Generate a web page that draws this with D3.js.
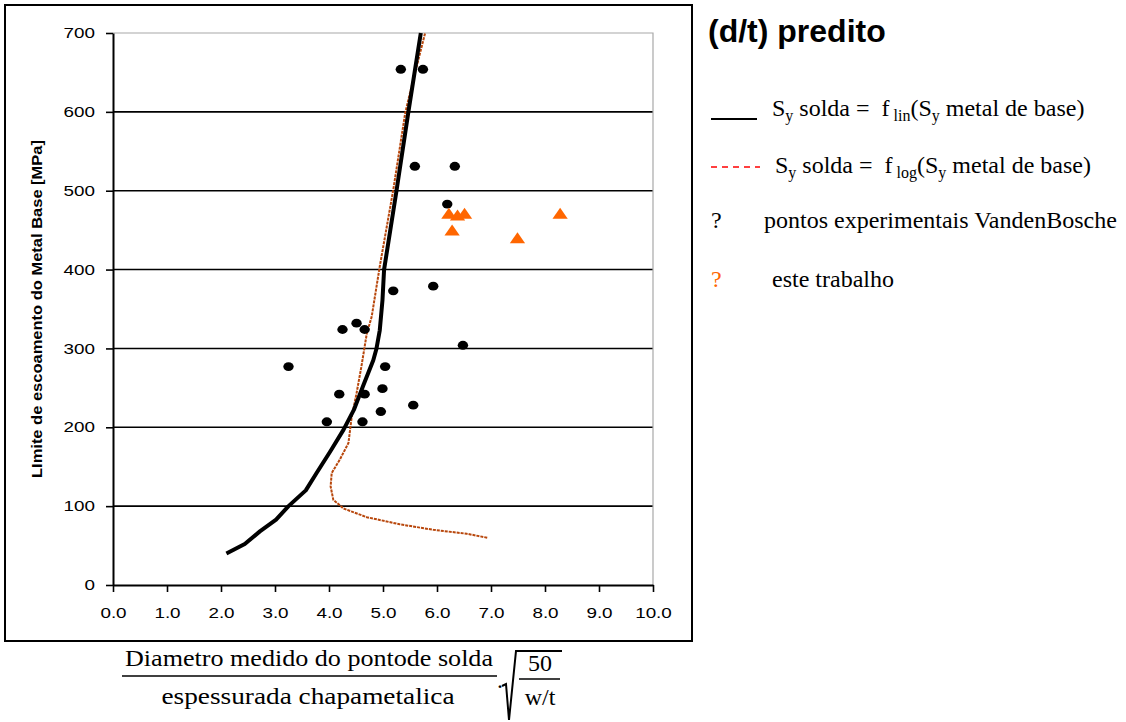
<!DOCTYPE html>
<html>
<head>
<meta charset="utf-8">
<script src="https://cdn.jsdelivr.net/npm/d3@7"></script>
<style>
  body { margin: 0; background: #fff; }
  svg { display: block; }
  text { white-space: pre; }
</style>
</head>
<body>
<svg id="chart" width="1126" height="722"></svg>
<script>
// experimental points, VandenBosche
const vbX = [5.33, 5.74, 5.59, 6.33, 6.19, 5.19, 5.93, 4.51, 4.25, 4.66, 6.48, 3.25, 5.04, 4.19, 4.66, 4.99, 5.56, 4.96, 3.96, 4.62];
const vbY = [654, 654, 531, 531, 483, 373, 379, 332, 324, 324, 304, 277, 277, 242, 242, 249, 228, 220, 207, 207];

// este trabalho
const twX = [6.22, 6.38, 6.51, 6.28, 7.49, 8.28];
const twY = [469, 467, 469, 448, 438, 469];

// predicted curve, linear fit
const linX = [2.10, 2.44, 2.72, 3.02, 3.25, 3.57, 3.77, 4.02, 4.27, 4.46, 4.64, 4.82, 4.88, 4.94, 4.99, 5.02, 5.25, 5.47, 5.70];
const linY = [40, 52, 68, 83, 100, 120, 142, 169, 197, 222, 254, 285, 300, 323, 361, 400, 500, 600, 700];

// predicted curve, log fit
const logX = [6.93, 6.55, 5.93, 5.31, 4.70, 4.27, 4.08, 4.03, 4.05, 4.20, 4.36, 4.42, 4.51, 4.60, 4.70, 4.79, 4.94, 5.19, 5.41, 5.50, 5.78];
const logY = [60, 65, 70, 77, 86, 97, 108, 125, 142, 159, 180, 213, 243, 277, 319, 340, 404, 501, 598, 624, 700];

const xTicks = [0, 1, 2, 3, 4, 5, 6, 7, 8, 9, 10];
const yTicks = [0, 100, 200, 300, 400, 500, 600, 700];
const yGrid = [100, 200, 300, 400, 500, 600];

const sans = "'Liberation Sans', Arial, sans-serif";
const serif = "'Liberation Serif', 'Times New Roman', serif";

const svg = d3.select("#chart");

const x = d3.scaleLinear().domain([0, 10]).range([113, 653]);
const y = d3.scaleLinear().domain([0, 700]).range([585, 33]);

// outer frame
svg.append("rect")
    .attr("x", 5).attr("y", 5)
    .attr("width", 687).attr("height", 636)
    .attr("fill", "none")
    .attr("stroke", "#000")
    .attr("stroke-width", 2);

// grid
svg.append("g").selectAll("line")
    .data(yGrid)
    .join("line")
    .attr("x1", x(0)).attr("x2", x(10))
    .attr("y1", d => y(d)).attr("y2", d => y(d))
    .attr("stroke", "#000")
    .attr("stroke-width", 1.6);

// plot area border (top + right) in gray
svg.append("path")
    .attr("d", `M${x(0)},${y(700)}H${x(10)}V${y(0)}`)
    .attr("fill", "none")
    .attr("stroke", "#a8a8a8")
    .attr("stroke-width", 1.2);

// axes
const sx = 1.3;  // tick labels look stretched sideways
const yAxis = svg.append("g")
    .attr("transform", `translate(${x(0)},0)`)
    .call(d3.axisLeft(y).tickValues(yTicks).tickSize(7).tickSizeOuter(0).tickFormat(d3.format("d")));
const xAxis = svg.append("g")
    .attr("transform", `translate(0,${y(0)})`)
    .call(d3.axisBottom(x).tickValues(xTicks).tickSize(7).tickSizeOuter(0).tickFormat(d3.format(".1f")));

[yAxis, xAxis].forEach(a => {
    a.select(".domain").attr("stroke", "#000").attr("stroke-width", 2);
    a.selectAll(".tick line").attr("stroke", "#000").attr("stroke-width", 1.6);
    a.selectAll("text")
        .attr("font-family", sans)
        .attr("font-size", 14.5)
        .attr("fill", "#000");
});
yAxis.selectAll("text")
    .attr("x", -18 / sx)
    .attr("transform", `scale(${sx},1)`);
xAxis.selectAll("text")
    .attr("y", 33)
    .attr("dy", 0)
    .attr("transform", `scale(${sx},1)`);
xAxis.selectAll(".tick text").attr("x", 0);

// y axis title
svg.append("text")
    .attr("transform", "translate(42,309) rotate(-90)")
    .attr("text-anchor", "middle")
    .attr("font-family", sans)
    .attr("font-weight", "bold")
    .attr("font-size", 15)
    .attr("textLength", 338)
    .attr("lengthAdjust", "spacingAndGlyphs")
    .text("LImite de escoamento do Metal Base [MPa]");

// curves
const line = d3.line().x(d => x(d[0])).y(d => y(d[1]));

svg.append("path")
    .datum(d3.zip(logX, logY))
    .attr("d", line)
    .attr("fill", "none")
    .attr("stroke", "#b8470c")
    .attr("stroke-width", 2)
    .attr("stroke-dasharray", "3,1");

svg.append("path")
    .datum(d3.zip(linX, linY))
    .attr("d", line)
    .attr("fill", "none")
    .attr("stroke", "#000")
    .attr("stroke-width", 4)
    .attr("stroke-linejoin", "round");

// points
svg.append("g").selectAll("ellipse")
    .data(d3.zip(vbX, vbY))
    .join("ellipse")
    .attr("cx", d => x(d[0]))
    .attr("cy", d => y(d[1]))
    .attr("rx", 5.2)
    .attr("ry", 4.4)
    .attr("fill", "#000");

const tri = d3.symbol().type(d3.symbolTriangle).size(70);
svg.append("g").selectAll("path")
    .data(d3.zip(twX, twY))
    .join("path")
    .attr("d", tri)
    .attr("transform", d => `translate(${x(d[0])},${y(d[1])}) scale(1.2,1)`)
    .attr("fill", "#ff6600");

// title + legend
svg.append("text")
    .attr("x", 708).attr("y", 42)
    .attr("font-family", sans)
    .attr("font-weight", "bold")
    .attr("font-size", 32)
    .text("(d/t) predito");

function richText(xp, yp, parts, color) {
    const t = svg.append("text")
        .attr("x", xp).attr("y", yp)
        .attr("font-family", serif)
        .attr("font-size", 24)
        .attr("fill", color || "#000");
    let low = false;
    parts.forEach(p => {
        const sub = p[1];
        const ts = t.append("tspan").text(p[0]);
        if (sub && !low) { ts.attr("dy", 5).attr("font-size", 16); low = true; }
        else if (sub) { ts.attr("font-size", 16); }
        else if (low) { ts.attr("dy", -5); low = false; }
    });
    return t;
}

svg.append("line")
    .attr("x1", 711).attr("x2", 757)
    .attr("y1", 119).attr("y2", 119)
    .attr("stroke", "#000").attr("stroke-width", 2);
richText(772, 116, [["S"], ["y", 1], [" solda =  f"], [" lin", 1], ["(S"], ["y", 1], [" metal de base)"]]);

svg.append("line")
    .attr("x1", 711).attr("x2", 760)
    .attr("y1", 167).attr("y2", 167)
    .attr("stroke", "#ff0000").attr("stroke-width", 1.3)
    .attr("stroke-dasharray", "6,5");
richText(775, 173, [["S"], ["y", 1], [" solda =  f"], [" log", 1], ["(S"], ["y", 1], [" metal de base)"]]);

richText(711, 228, [["?"]]);
richText(764, 228, [["pontos experimentais VandenBosche"]]);
richText(711, 287, [["?"]], "#ff6600");
richText(772, 287, [["este trabalho"]]);

// x axis title as a formula
const f = svg.append("g")
    .attr("font-family", serif)
    .attr("font-size", 24)
    .attr("fill", "#000");
f.append("text")
    .attr("x", 309).attr("y", 666)
    .attr("text-anchor", "middle")
    .attr("textLength", 368)
    .attr("lengthAdjust", "spacingAndGlyphs")
    .text("Diametro medido do pontode solda");
f.append("line")
    .attr("x1", 122).attr("x2", 497)
    .attr("y1", 676).attr("y2", 676)
    .attr("stroke", "#000").attr("stroke-width", 1.5);
f.append("text")
    .attr("x", 308).attr("y", 704)
    .attr("text-anchor", "middle")
    .attr("textLength", 293)
    .attr("lengthAdjust", "spacingAndGlyphs")
    .text("espessurada chapametalica");
f.append("text")
    .attr("x", 497).attr("y", 688)
    .text(".");
f.append("path")
    .attr("d", "M502,686 L506,684 L509,720 L516,651 L562,651")
    .attr("fill", "none")
    .attr("stroke", "#000")
    .attr("stroke-width", 2);
f.append("text")
    .attr("x", 540).attr("y", 671)
    .attr("text-anchor", "middle")
    .text("50");
f.append("line")
    .attr("x1", 519).attr("x2", 560)
    .attr("y1", 679).attr("y2", 679)
    .attr("stroke", "#000").attr("stroke-width", 1.5);
f.append("text")
    .attr("x", 540).attr("y", 705)
    .attr("text-anchor", "middle")
    .text("w/t");
</script>
</body>
</html>
